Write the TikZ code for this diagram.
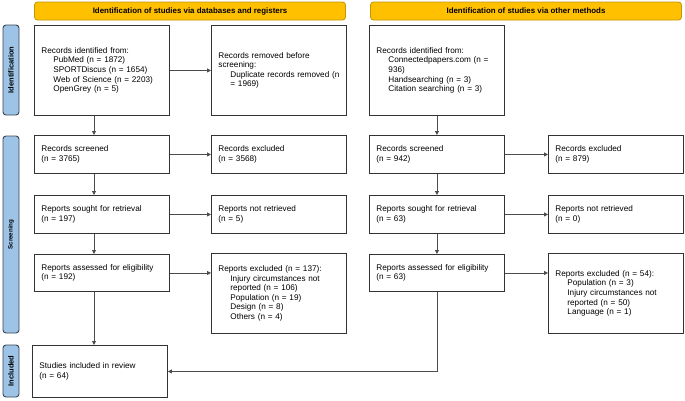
\documentclass[tikz,border=0pt]{standalone}
\usepackage{fontspec}
\setmainfont{Liberation Sans}
\usetikzlibrary{arrows.meta}

\definecolor{headgold}{HTML}{FFC000}
\definecolor{headline}{HTML}{C29400}
\definecolor{phaseblue}{HTML}{9DC3E6}
\definecolor{phaseline}{HTML}{3B4654}

\tikzset{
  box/.style={draw=black!80, line width=0.9pt, anchor=north west, align=left,
    text width=121pt, inner xsep=7pt, inner ysep=2pt,
    font=\fontsize{8.2}{9.6}\selectfont},
  head/.style={draw=headline, fill=headgold, line width=0.8pt, rounded corners=3pt,
    minimum width=311pt, minimum height=18pt, font=\fontsize{7.9}{9}\selectfont\bfseries},
  phase/.style={draw=phaseline, fill=phaseblue, line width=0.9pt, rounded corners=3pt,
    rotate=90, minimum height=16pt, inner sep=0pt, font=\fontsize{7.5}{9}\selectfont\bfseries},
  arr/.style={draw=black!70, line width=0.8pt, -{Triangle[length=4pt,width=4pt]}}
}
\newcommand{\ind}{\hspace*{12pt}}

\begin{document}
\begin{tikzpicture}[x=1pt,y=-1pt]
\useasboundingbox (0,0) rectangle (685,400);

\node[head] (hdL) at (190,11) {Identification of studies via databases and registers};
\node[head] (hdR) at (526,11) {Identification of studies via other methods};

\node[phase, minimum width=90pt] (phId) at (11,70) {Identification};
\node[phase, minimum width=197pt, font=\fontsize{6.2}{8}\selectfont\bfseries] (phSc) at (11,234.5) {Screening};
\node[phase, minimum width=52pt] (phIn) at (11,371) {Included};

\node[box, minimum height=90pt] (idL) at (34,25) {Records identified from:\\
\ind PubMed (n = 1872)\\
\ind SPORTDiscus (n = 1654)\\
\ind Web of Science (n = 2203)\\
\ind OpenGrey (n = 5)};
\node[box, minimum height=90pt] (rmL) at (211,25) {Records removed before\\
screening:\\
\ind Duplicate records removed (n\\
\ind = 1969)};
\node[box, minimum height=38pt] (scL) at (34,135) {Records screened\\(n = 3765)};
\node[box, minimum height=38pt] (exL) at (211,135) {Records excluded\\(n = 3568)};
\node[box, minimum height=38pt] (soL) at (34,195) {Reports sought for retrieval\\(n = 197)};
\node[box, minimum height=38pt] (nrL) at (211,195) {Reports not retrieved\\(n = 5)};
\node[box, minimum height=37pt] (asL) at (34,254) {Reports assessed for eligibility\\(n = 192)};
\node[box, minimum height=80pt] (xcL) at (211,253) {Reports excluded (n = 137):\\
\ind Injury circumstances not\\
\ind reported (n = 106)\\
\ind Population (n = 19)\\
\ind Design (n = 8)\\
\ind Others (n = 4)};
\node[box, minimum height=52pt] (inc) at (32,345) {Studies included in review\\(n = 64)};

\node[box, minimum height=90pt] (idR) at (369,25) {Records identified from:\\
\ind Connectedpapers.com (n =\\
\ind 936)\\
\ind Handsearching (n = 3)\\
\ind Citation searching (n = 3)};
\node[box, minimum height=38pt] (scR) at (369,135) {Records screened\\(n = 942)};
\node[box, minimum height=38pt] (exR) at (548,135) {Records excluded\\(n = 879)};
\node[box, minimum height=38pt] (soR) at (369,195) {Reports sought for retrieval\\(n = 63)};
\node[box, minimum height=38pt] (nrR) at (548,195) {Reports not retrieved\\(n = 0)};
\node[box, minimum height=37pt] (asR) at (369,254) {Reports assessed for eligibility\\(n = 63)};
\node[box, minimum height=80pt] (xcR) at (548,253) {Reports excluded (n = 54):\\
\ind Population (n = 3)\\
\ind Injury circumstances not\\
\ind reported (n = 50)\\
\ind Language (n = 1)};

\coordinate (colL) at (94,0);
\draw[arr] (idL.south -| colL) -- (scL.north -| colL);
\draw[arr] (scL.south -| colL) -- (soL.north -| colL);
\draw[arr] (soL.south -| colL) -- (asL.north -| colL);
\draw[arr] (asL.south -| colL) -- (inc.north -| colL);
\draw[arr] (idL.east) -- (rmL.west);
\draw[arr] (scL.east) -- (exL.west);
\draw[arr] (soL.east) -- (nrL.west);
\draw[arr] (asL.east) -- (asL.east -| xcL.west);

\draw[arr] (idR.south) -- (scR.north);
\draw[arr] (scR.south) -- (soR.north);
\draw[arr] (soR.south) -- (asR.north);
\draw[arr] (asR.south) |- (inc.east);
\draw[arr] (scR.east) -- (exR.west);
\draw[arr] (soR.east) -- (nrR.west);
\draw[arr] (asR.east) -- (asR.east -| xcR.west);
\end{tikzpicture}
\end{document}
